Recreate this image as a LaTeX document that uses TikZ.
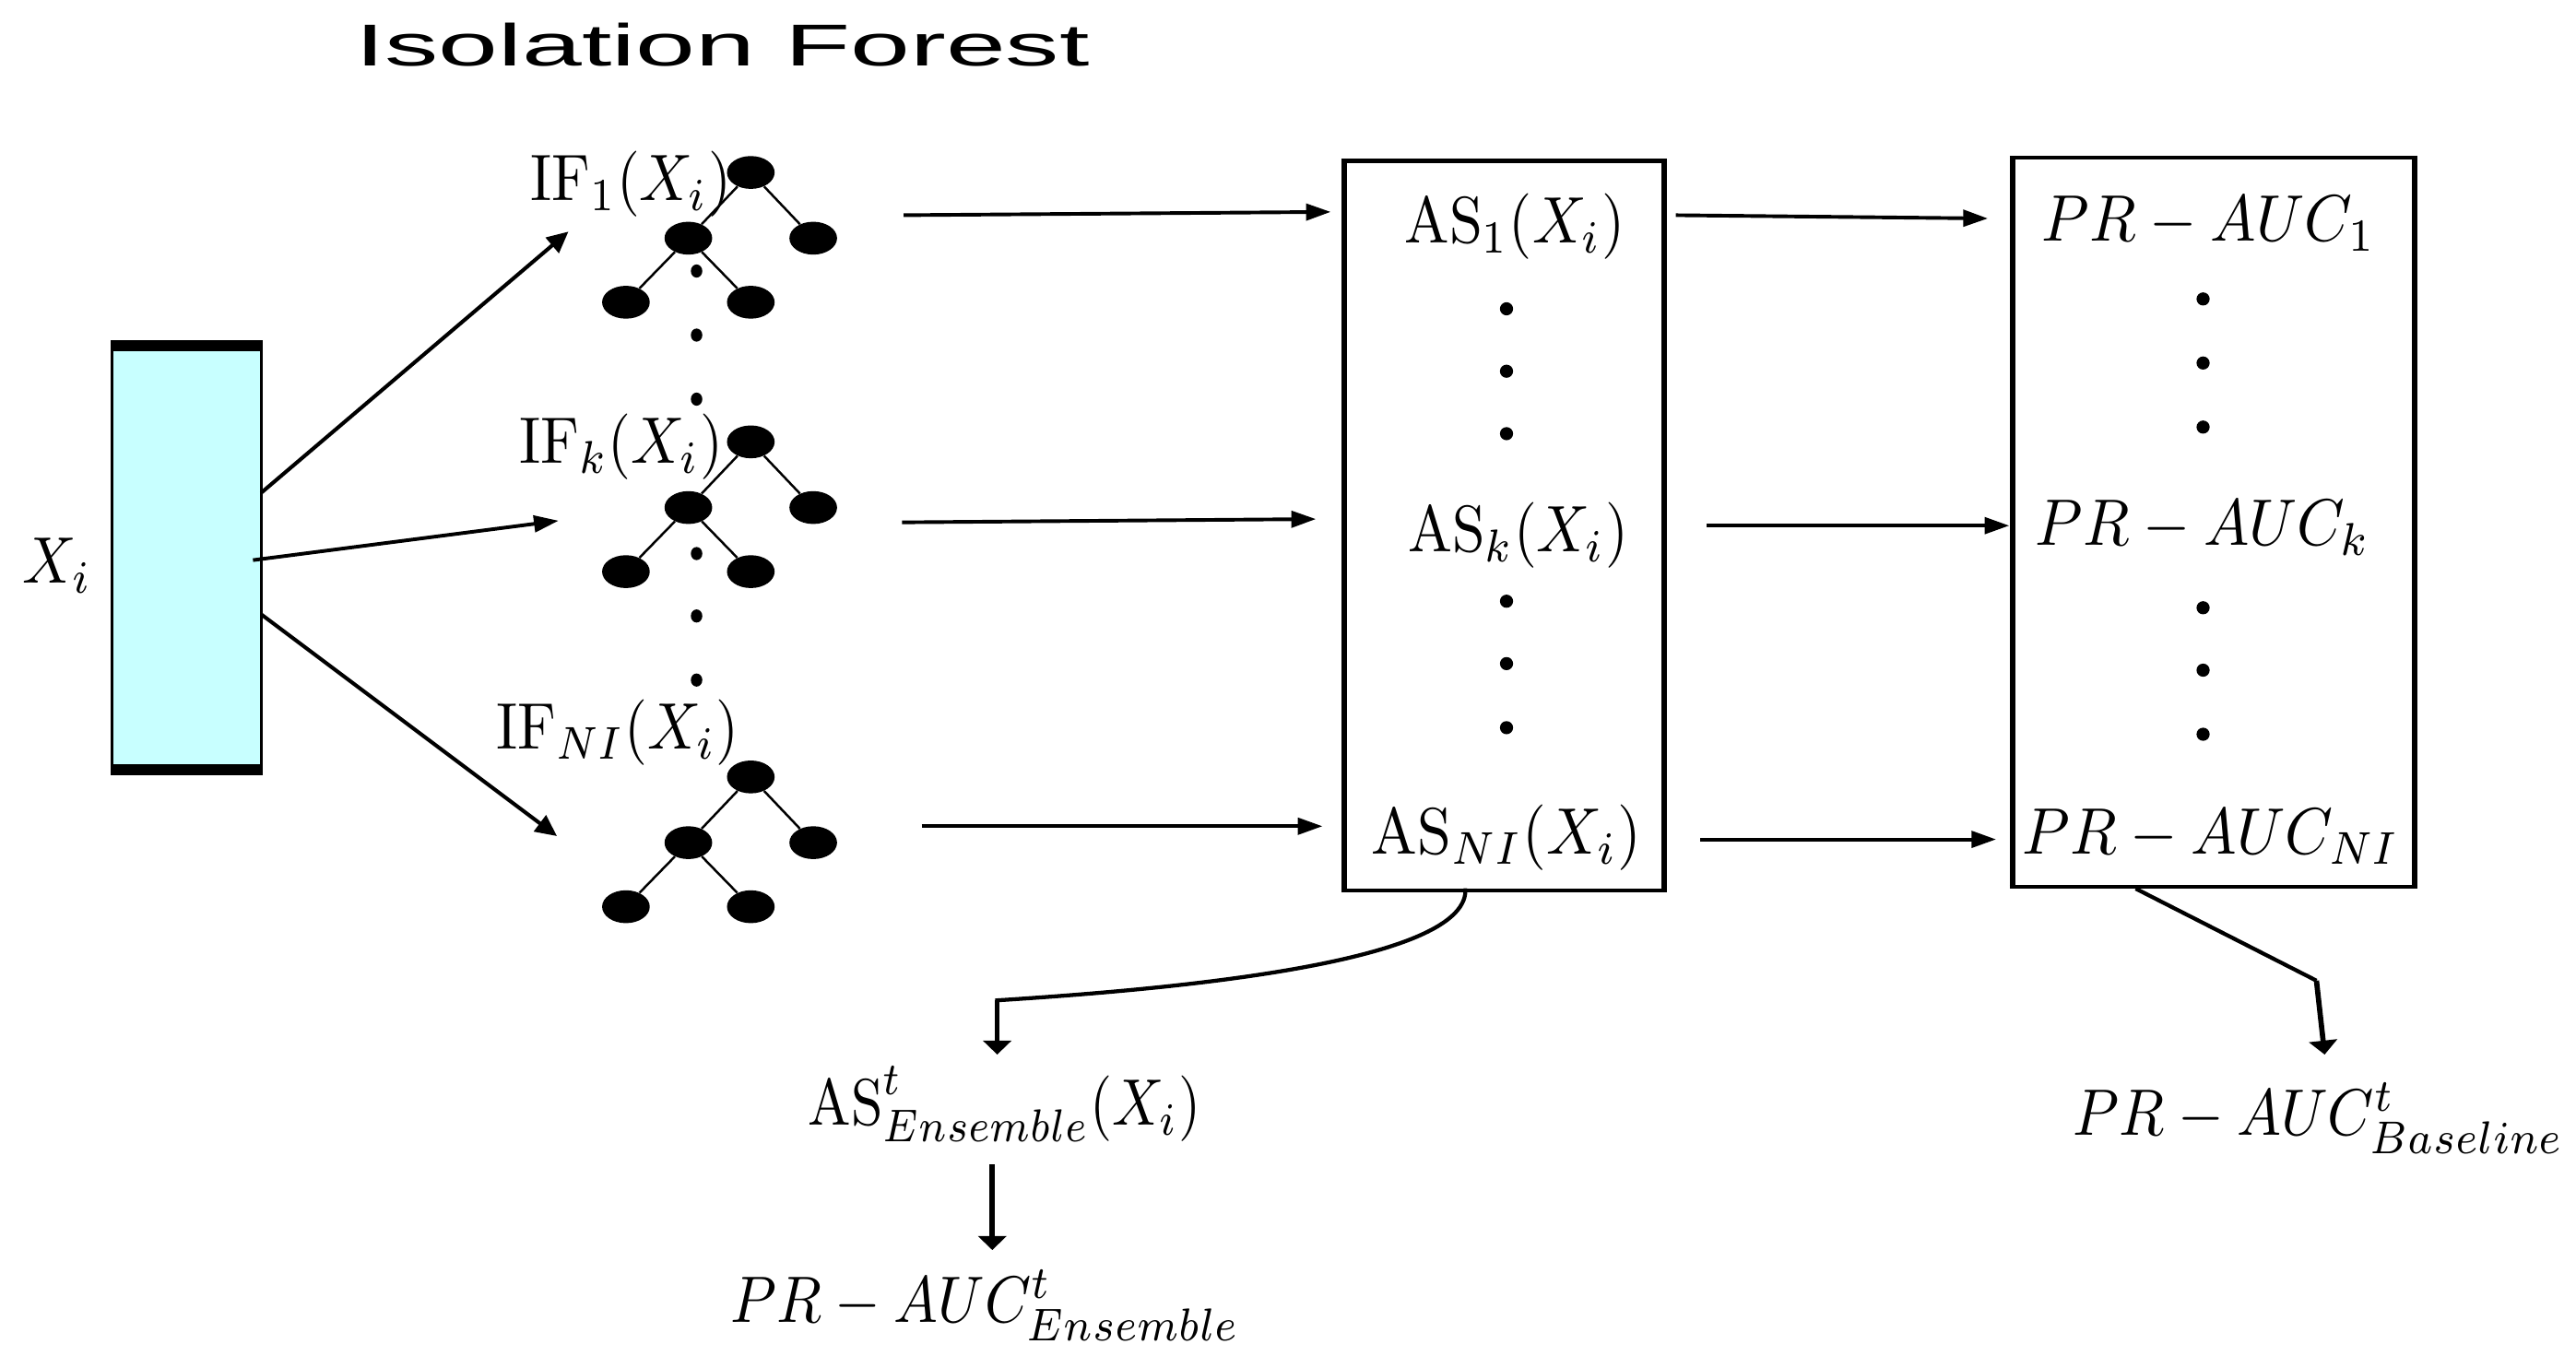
\documentclass[tikz,border=0pt]{standalone}
\usepackage{graphicx}
\usepackage{fontspec}
\newfontfamily\titlefont{Liberation Sans}
\usetikzlibrary{arrows.meta,shapes.geometric}
\definecolor{pale}{HTML}{C8FFFF}
\newcommand{\fitw}[2]{\resizebox{#1pt}{4\height}{$#2$}}
\tikzset{
  lab/.style={anchor=base west,inner sep=0pt,outer sep=0pt},
  leaf/.style={ellipse,fill=black,draw=none,minimum width=29pt,minimum height=20pt,inner sep=0pt},
  spot/.style={ellipse,fill=black,draw=none,minimum width=7pt,minimum height=8pt,inner sep=0pt},
  treeedge/.style={line width=1.4pt},
  conn/.style={line width=2.2pt,-{Triangle[length=15pt,width=10pt]}},
  diagconn/.style={line width=2.3pt,-{Triangle[length=13pt,width=12pt]}},
  fallconn/.style={line width=3.2pt,-{Triangle[length=8.5pt,width=17pt]}},
  slopeline/.style={line width=2.4pt},
  tallbox/.style={fill=white,draw=none,inner sep=0pt,outer sep=0pt},
  wallh/.style={line width=2.4pt,shorten >=-1.7pt,shorten <=-1.7pt},
  wallv/.style={line width=3.4pt,shorten >=-1.2pt,shorten <=-1.2pt},
}
\newcommand{\foresttree}[3]{%
  \node[leaf] (#1r) at (#2,#3) {};
  \node[leaf] (#1a) at (#2-38,#3+40) {};
  \node[leaf] (#1b) at (#2+38,#3+40) {};
  \node[leaf] (#1c) at (#2-76,#3+79) {};
  \node[leaf] (#1d) at (#2,#3+79) {};
  \draw[treeedge] (#1r) -- (#1a);
  \draw[treeedge] (#1r) -- (#1b);
  \draw[treeedge] (#1a) -- (#1c);
  \draw[treeedge] (#1a) -- (#1d);
}
\begin{document}
\begin{tikzpicture}[x=1pt,y=-1pt]
\useasboundingbox (0,0) rectangle (1568,825);

\node[anchor=base west,inner sep=0pt,font=\titlefont\fontsize{36}{40}\selectfont] (title) at (216,40)
  {\resizebox{447pt}{\height}{Isolation Forest}};

% input bar
\node[draw=black,line width=1.8pt,fill=pale,minimum width=91pt,minimum height=263pt,inner sep=0pt] (bar) at (113.5,339.5) {};
\node[fill=black,minimum width=92pt,minimum height=6pt,inner sep=0pt] (bartop) at (113.5,211) {};
\node[fill=black,minimum width=92pt,minimum height=6pt,inner sep=0pt] (barbot) at (113.5,468) {};
\node[lab] (xi) at (14,355) {\fitw{42}{X_i}};

% trees
\foresttree{p}{457}{105}
\foresttree{q}{457}{269}
\foresttree{s}{457}{473}
\foreach \n/\y in {a/165,b/204,c/243,d/337,e/375,f/414}{
  \node[spot] (dot\n) at (424,\y) {};
}

% forest labels
\node[lab] (if1) at (323,122) {\fitw{122}{\mathrm{IF}_1(X_i)}};
\node[lab] (ifk) at (316,282) {\fitw{124}{\mathrm{IF}_k(X_i)}};
\node[lab] (ifn) at (302,456) {\fitw{148}{\mathrm{IF}_{NI}(X_i)}};

% boxes
\node[tallbox,minimum width=195pt,minimum height=444pt] (asbox) at (915.5,320) {};
\node[tallbox,minimum width=245pt,minimum height=444pt] (prbox) at (1347.5,318) {};
\foreach \b in {asbox,prbox}{
  \draw[wallh] (\b.north west) -- (\b.north east);
  \draw[wallh] (\b.south west) -- (\b.south east);
  \draw[wallv] (\b.north west) -- (\b.south west);
  \draw[wallv] (\b.north east) -- (\b.south east);
}

\node[lab] (as1) at (855,148) {\fitw{134}{\mathrm{AS}_1(X_i)}};
\node[lab] (ask) at (857,336) {\fitw{134}{\mathrm{AS}_k(X_i)}};
\node[lab] (asn) at (835,520) {\fitw{164}{\mathrm{AS}_{NI}(X_i)}};
\node[lab] (pr1) at (1243,147) {\fitw{203}{PR-AUC_1}};
\node[lab] (prk) at (1239,332) {\fitw{204}{PR-AUC_k}};
\node[lab] (prn) at (1231,520) {\fitw{230}{PR-AUC_{NI}}};

\foreach \n/\y in {a/188,b/226,c/264,d/366,e/404,f/443}{
  \node[spot,minimum width=8pt] (asdot\n) at (917,\y) {};
}
\foreach \n/\y in {a/182,b/221,c/260,d/370,e/408,f/447}{
  \node[spot,minimum width=8pt] (prdot\n) at (1341,\y) {};
}

% bottom labels
\node[lab] (asens) at (492,685) {\fitw{239}{\mathrm{AS}^t_{Ensemble}(X_i)}};
\node[lab] (prens) at (445,805) {\fitw{310}{PR-AUC^t_{Ensemble}}};
\node[lab] (prbas) at (1262,691) {\fitw{299}{PR-AUC^t_{Baseline}}};

% connector ends
\coordinate (ua) at (159,300);  \coordinate (ub) at (346,141);
\coordinate (va) at (154,341);  \coordinate (vb) at (340,317);
\coordinate (wa) at (159,374);  \coordinate (wb) at (339,509);
\coordinate (f1a) at (550,131); \coordinate (f1b) at (810,129);
\coordinate (f2a) at (549,318); \coordinate (f2b) at (801,316);
\coordinate (f3a) at (561,503); \coordinate (f3b) at (805,503);
\coordinate (g1a) at (1020,131); \coordinate (g1b) at (1210,133);
\coordinate (g2a) at (1039,320); \coordinate (g2b) at (1223,320);
\coordinate (g3a) at (1035,511); \coordinate (g3b) at (1215,511);
\coordinate (ca) at (892,542);  \coordinate (cm) at (607,609); \coordinate (cb) at (607,642);
\coordinate (ea) at (1300,541); \coordinate (em) at (1410,597); \coordinate (eb) at (1415,642);
\coordinate (da) at (604,709);  \coordinate (db) at (604,761);

\draw[diagconn] (ua) -- (ub);
\draw[conn] (va) -- (vb);
\draw[diagconn] (wa) -- (wb);
\draw[conn] (f1a) -- (f1b);
\draw[conn] (f2a) -- (f2b);
\draw[conn] (f3a) -- (f3b);
\draw[conn] (g1a) -- (g1b);
\draw[conn] (g2a) -- (g2b);
\draw[conn] (g3a) -- (g3b);
\draw[slopeline,line cap=rect] (ca) .. controls (892,588) and (700,603) .. (cm);
\draw[fallconn] (cm) -- (cb);
\draw[slopeline] (ea) -- (em);
\draw[fallconn] (em) -- (eb);
\draw[fallconn] (da) -- (db);
\end{tikzpicture}
\end{document}
